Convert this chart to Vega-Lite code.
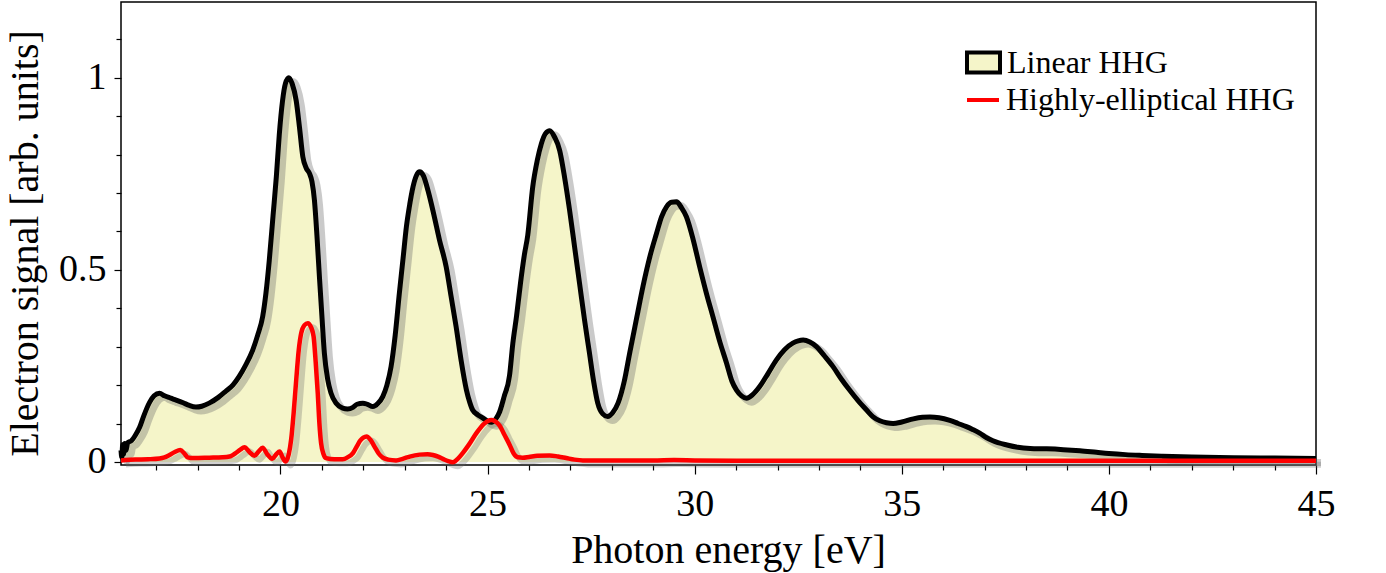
{
  "$schema": "https://vega.github.io/schema/vega-lite/v6.json",
  "width": 1195,
  "height": 463,
  "autosize": {"type": "none"},
  "padding": {"left": 121, "top": 2, "right": 70, "bottom": 108},
  "background": "white",
  "datasets": {
    "hhg": [
      {"energy": 16.15, "signal": 0.03, "series": "Linear HHG"},
      {"energy": 16.17, "signal": 0.012, "series": "Linear HHG"},
      {"energy": 16.19, "signal": 0.045, "series": "Linear HHG"},
      {"energy": 16.21, "signal": 0.02, "series": "Linear HHG"},
      {"energy": 16.24, "signal": 0.048, "series": "Linear HHG"},
      {"energy": 16.27, "signal": 0.03, "series": "Linear HHG"},
      {"energy": 16.31, "signal": 0.05, "series": "Linear HHG"},
      {"energy": 16.4, "signal": 0.055, "series": "Linear HHG"},
      {"energy": 16.5, "signal": 0.07, "series": "Linear HHG"},
      {"energy": 16.6, "signal": 0.09, "series": "Linear HHG"},
      {"energy": 16.7, "signal": 0.12, "series": "Linear HHG"},
      {"energy": 16.84, "signal": 0.155, "series": "Linear HHG"},
      {"energy": 16.95, "signal": 0.172, "series": "Linear HHG"},
      {"energy": 17.08, "signal": 0.179, "series": "Linear HHG"},
      {"energy": 17.2, "signal": 0.172, "series": "Linear HHG"},
      {"energy": 17.35, "signal": 0.166, "series": "Linear HHG"},
      {"energy": 17.48, "signal": 0.161, "series": "Linear HHG"},
      {"energy": 17.65, "signal": 0.154, "series": "Linear HHG"},
      {"energy": 17.8, "signal": 0.147, "series": "Linear HHG"},
      {"energy": 17.96, "signal": 0.143, "series": "Linear HHG"},
      {"energy": 18.1, "signal": 0.145, "series": "Linear HHG"},
      {"energy": 18.28, "signal": 0.153, "series": "Linear HHG"},
      {"energy": 18.5, "signal": 0.168, "series": "Linear HHG"},
      {"energy": 18.69, "signal": 0.185, "series": "Linear HHG"},
      {"energy": 18.85, "signal": 0.2, "series": "Linear HHG"},
      {"energy": 19.0, "signal": 0.222, "series": "Linear HHG"},
      {"energy": 19.15, "signal": 0.25, "series": "Linear HHG"},
      {"energy": 19.33, "signal": 0.291, "series": "Linear HHG"},
      {"energy": 19.45, "signal": 0.33, "series": "Linear HHG"},
      {"energy": 19.57, "signal": 0.378, "series": "Linear HHG"},
      {"energy": 19.65, "signal": 0.44, "series": "Linear HHG"},
      {"energy": 19.73, "signal": 0.525, "series": "Linear HHG"},
      {"energy": 19.82, "signal": 0.64, "series": "Linear HHG"},
      {"energy": 19.9, "signal": 0.742, "series": "Linear HHG"},
      {"energy": 19.97, "signal": 0.85, "series": "Linear HHG"},
      {"energy": 20.05, "signal": 0.94, "series": "Linear HHG"},
      {"energy": 20.12, "signal": 0.985, "series": "Linear HHG"},
      {"energy": 20.2, "signal": 1.0, "series": "Linear HHG"},
      {"energy": 20.28, "signal": 0.985, "series": "Linear HHG"},
      {"energy": 20.38, "signal": 0.94, "series": "Linear HHG"},
      {"energy": 20.46, "signal": 0.87, "series": "Linear HHG"},
      {"energy": 20.54, "signal": 0.794, "series": "Linear HHG"},
      {"energy": 20.62, "signal": 0.765, "series": "Linear HHG"},
      {"energy": 20.7, "signal": 0.751, "series": "Linear HHG"},
      {"energy": 20.76, "signal": 0.73, "series": "Linear HHG"},
      {"energy": 20.82, "signal": 0.681, "series": "Linear HHG"},
      {"energy": 20.88, "signal": 0.59, "series": "Linear HHG"},
      {"energy": 20.94, "signal": 0.482, "series": "Linear HHG"},
      {"energy": 21.0, "signal": 0.38, "series": "Linear HHG"},
      {"energy": 21.06, "signal": 0.283, "series": "Linear HHG"},
      {"energy": 21.14, "signal": 0.215, "series": "Linear HHG"},
      {"energy": 21.22, "signal": 0.179, "series": "Linear HHG"},
      {"energy": 21.35, "signal": 0.152, "series": "Linear HHG"},
      {"energy": 21.5, "signal": 0.14, "series": "Linear HHG"},
      {"energy": 21.62, "signal": 0.138, "series": "Linear HHG"},
      {"energy": 21.75, "signal": 0.142, "series": "Linear HHG"},
      {"energy": 21.85, "signal": 0.15, "series": "Linear HHG"},
      {"energy": 21.99, "signal": 0.153, "series": "Linear HHG"},
      {"energy": 22.1, "signal": 0.15, "series": "Linear HHG"},
      {"energy": 22.23, "signal": 0.144, "series": "Linear HHG"},
      {"energy": 22.35, "signal": 0.152, "series": "Linear HHG"},
      {"energy": 22.47, "signal": 0.17, "series": "Linear HHG"},
      {"energy": 22.57, "signal": 0.2, "series": "Linear HHG"},
      {"energy": 22.67, "signal": 0.248, "series": "Linear HHG"},
      {"energy": 22.77, "signal": 0.33, "series": "Linear HHG"},
      {"energy": 22.87, "signal": 0.439, "series": "Linear HHG"},
      {"energy": 22.96, "signal": 0.53, "series": "Linear HHG"},
      {"energy": 23.04, "signal": 0.612, "series": "Linear HHG"},
      {"energy": 23.12, "signal": 0.67, "series": "Linear HHG"},
      {"energy": 23.2, "signal": 0.716, "series": "Linear HHG"},
      {"energy": 23.28, "signal": 0.745, "series": "Linear HHG"},
      {"energy": 23.36, "signal": 0.755, "series": "Linear HHG"},
      {"energy": 23.45, "signal": 0.745, "series": "Linear HHG"},
      {"energy": 23.56, "signal": 0.707, "series": "Linear HHG"},
      {"energy": 23.7, "signal": 0.645, "series": "Linear HHG"},
      {"energy": 23.84, "signal": 0.577, "series": "Linear HHG"},
      {"energy": 24.0, "signal": 0.508, "series": "Linear HHG"},
      {"energy": 24.12, "signal": 0.43, "series": "Linear HHG"},
      {"energy": 24.24, "signal": 0.352, "series": "Linear HHG"},
      {"energy": 24.36, "signal": 0.265, "series": "Linear HHG"},
      {"energy": 24.49, "signal": 0.187, "series": "Linear HHG"},
      {"energy": 24.57, "signal": 0.155, "series": "Linear HHG"},
      {"energy": 24.64, "signal": 0.135, "series": "Linear HHG"},
      {"energy": 24.76, "signal": 0.123, "series": "Linear HHG"},
      {"energy": 24.89, "signal": 0.114, "series": "Linear HHG"},
      {"energy": 25.0, "signal": 0.106, "series": "Linear HHG"},
      {"energy": 25.09, "signal": 0.103, "series": "Linear HHG"},
      {"energy": 25.2, "signal": 0.112, "series": "Linear HHG"},
      {"energy": 25.29, "signal": 0.13, "series": "Linear HHG"},
      {"energy": 25.4, "signal": 0.17, "series": "Linear HHG"},
      {"energy": 25.53, "signal": 0.225, "series": "Linear HHG"},
      {"energy": 25.61, "signal": 0.309, "series": "Linear HHG"},
      {"energy": 25.7, "signal": 0.38, "series": "Linear HHG"},
      {"energy": 25.8, "signal": 0.47, "series": "Linear HHG"},
      {"energy": 25.89, "signal": 0.54, "series": "Linear HHG"},
      {"energy": 25.97, "signal": 0.59, "series": "Linear HHG"},
      {"energy": 26.09, "signal": 0.716, "series": "Linear HHG"},
      {"energy": 26.2, "signal": 0.785, "series": "Linear HHG"},
      {"energy": 26.3, "signal": 0.829, "series": "Linear HHG"},
      {"energy": 26.4, "signal": 0.855, "series": "Linear HHG"},
      {"energy": 26.5, "signal": 0.862, "series": "Linear HHG"},
      {"energy": 26.62, "signal": 0.845, "series": "Linear HHG"},
      {"energy": 26.74, "signal": 0.811, "series": "Linear HHG"},
      {"energy": 26.86, "signal": 0.74, "series": "Linear HHG"},
      {"energy": 26.98, "signal": 0.655, "series": "Linear HHG"},
      {"energy": 27.1, "signal": 0.56, "series": "Linear HHG"},
      {"energy": 27.22, "signal": 0.465, "series": "Linear HHG"},
      {"energy": 27.34, "signal": 0.37, "series": "Linear HHG"},
      {"energy": 27.46, "signal": 0.283, "series": "Linear HHG"},
      {"energy": 27.56, "signal": 0.21, "series": "Linear HHG"},
      {"energy": 27.66, "signal": 0.153, "series": "Linear HHG"},
      {"energy": 27.78, "signal": 0.125, "series": "Linear HHG"},
      {"energy": 27.9, "signal": 0.118, "series": "Linear HHG"},
      {"energy": 28.02, "signal": 0.128, "series": "Linear HHG"},
      {"energy": 28.15, "signal": 0.153, "series": "Linear HHG"},
      {"energy": 28.3, "signal": 0.21, "series": "Linear HHG"},
      {"energy": 28.43, "signal": 0.283, "series": "Linear HHG"},
      {"energy": 28.6, "signal": 0.375, "series": "Linear HHG"},
      {"energy": 28.75, "signal": 0.456, "series": "Linear HHG"},
      {"energy": 28.92, "signal": 0.535, "series": "Linear HHG"},
      {"energy": 29.08, "signal": 0.595, "series": "Linear HHG"},
      {"energy": 29.2, "signal": 0.638, "series": "Linear HHG"},
      {"energy": 29.32, "signal": 0.664, "series": "Linear HHG"},
      {"energy": 29.44, "signal": 0.676, "series": "Linear HHG"},
      {"energy": 29.56, "signal": 0.677, "series": "Linear HHG"},
      {"energy": 29.68, "signal": 0.662, "series": "Linear HHG"},
      {"energy": 29.8, "signal": 0.638, "series": "Linear HHG"},
      {"energy": 29.96, "signal": 0.58, "series": "Linear HHG"},
      {"energy": 30.12, "signal": 0.508, "series": "Linear HHG"},
      {"energy": 30.28, "signal": 0.44, "series": "Linear HHG"},
      {"energy": 30.44, "signal": 0.378, "series": "Linear HHG"},
      {"energy": 30.6, "signal": 0.315, "series": "Linear HHG"},
      {"energy": 30.77, "signal": 0.257, "series": "Linear HHG"},
      {"energy": 30.9, "signal": 0.21, "series": "Linear HHG"},
      {"energy": 31.01, "signal": 0.187, "series": "Linear HHG"},
      {"energy": 31.13, "signal": 0.172, "series": "Linear HHG"},
      {"energy": 31.25, "signal": 0.166, "series": "Linear HHG"},
      {"energy": 31.4, "signal": 0.175, "series": "Linear HHG"},
      {"energy": 31.57, "signal": 0.196, "series": "Linear HHG"},
      {"energy": 31.77, "signal": 0.23, "series": "Linear HHG"},
      {"energy": 31.97, "signal": 0.265, "series": "Linear HHG"},
      {"energy": 32.17, "signal": 0.292, "series": "Linear HHG"},
      {"energy": 32.37, "signal": 0.309, "series": "Linear HHG"},
      {"energy": 32.5, "signal": 0.315, "series": "Linear HHG"},
      {"energy": 32.62, "signal": 0.317, "series": "Linear HHG"},
      {"energy": 32.78, "signal": 0.312, "series": "Linear HHG"},
      {"energy": 32.94, "signal": 0.3, "series": "Linear HHG"},
      {"energy": 33.14, "signal": 0.275, "series": "Linear HHG"},
      {"energy": 33.34, "signal": 0.248, "series": "Linear HHG"},
      {"energy": 33.54, "signal": 0.216, "series": "Linear HHG"},
      {"energy": 33.74, "signal": 0.187, "series": "Linear HHG"},
      {"energy": 33.94, "signal": 0.16, "series": "Linear HHG"},
      {"energy": 34.15, "signal": 0.135, "series": "Linear HHG"},
      {"energy": 34.3, "signal": 0.118, "series": "Linear HHG"},
      {"energy": 34.47, "signal": 0.107, "series": "Linear HHG"},
      {"energy": 34.63, "signal": 0.102, "series": "Linear HHG"},
      {"energy": 34.79, "signal": 0.1, "series": "Linear HHG"},
      {"energy": 35.0, "signal": 0.104, "series": "Linear HHG"},
      {"energy": 35.28, "signal": 0.112, "series": "Linear HHG"},
      {"energy": 35.5, "signal": 0.116, "series": "Linear HHG"},
      {"energy": 35.68, "signal": 0.117, "series": "Linear HHG"},
      {"energy": 35.9, "signal": 0.115, "series": "Linear HHG"},
      {"energy": 36.16, "signal": 0.108, "series": "Linear HHG"},
      {"energy": 36.36, "signal": 0.1, "series": "Linear HHG"},
      {"energy": 36.56, "signal": 0.092, "series": "Linear HHG"},
      {"energy": 36.72, "signal": 0.084, "series": "Linear HHG"},
      {"energy": 36.88, "signal": 0.075, "series": "Linear HHG"},
      {"energy": 37.05, "signal": 0.063, "series": "Linear HHG"},
      {"energy": 37.2, "signal": 0.055, "series": "Linear HHG"},
      {"energy": 37.54, "signal": 0.044, "series": "Linear HHG"},
      {"energy": 37.8, "signal": 0.038, "series": "Linear HHG"},
      {"energy": 38.1, "signal": 0.035, "series": "Linear HHG"},
      {"energy": 38.5, "signal": 0.034, "series": "Linear HHG"},
      {"energy": 38.9, "signal": 0.032, "series": "Linear HHG"},
      {"energy": 39.3, "signal": 0.029, "series": "Linear HHG"},
      {"energy": 39.7, "signal": 0.025, "series": "Linear HHG"},
      {"energy": 40.0, "signal": 0.022, "series": "Linear HHG"},
      {"energy": 40.4, "signal": 0.019, "series": "Linear HHG"},
      {"energy": 40.8, "signal": 0.017, "series": "Linear HHG"},
      {"energy": 41.3, "signal": 0.015, "series": "Linear HHG"},
      {"energy": 42.0, "signal": 0.013, "series": "Linear HHG"},
      {"energy": 43.0, "signal": 0.011, "series": "Linear HHG"},
      {"energy": 44.0, "signal": 0.01, "series": "Linear HHG"},
      {"energy": 45.0, "signal": 0.009, "series": "Linear HHG"},
      {"energy": 16.15, "signal": 0.004, "series": "Highly-elliptical HHG"},
      {"energy": 16.5, "signal": 0.006, "series": "Highly-elliptical HHG"},
      {"energy": 16.8, "signal": 0.007, "series": "Highly-elliptical HHG"},
      {"energy": 17.08, "signal": 0.009, "series": "Highly-elliptical HHG"},
      {"energy": 17.2, "signal": 0.012, "series": "Highly-elliptical HHG"},
      {"energy": 17.32, "signal": 0.018, "series": "Highly-elliptical HHG"},
      {"energy": 17.45, "signal": 0.026, "series": "Highly-elliptical HHG"},
      {"energy": 17.58, "signal": 0.031, "series": "Highly-elliptical HHG"},
      {"energy": 17.68, "signal": 0.022, "series": "Highly-elliptical HHG"},
      {"energy": 17.76, "signal": 0.012, "series": "Highly-elliptical HHG"},
      {"energy": 17.9, "signal": 0.01, "series": "Highly-elliptical HHG"},
      {"energy": 18.28, "signal": 0.011, "series": "Highly-elliptical HHG"},
      {"energy": 18.6, "signal": 0.012, "series": "Highly-elliptical HHG"},
      {"energy": 18.77, "signal": 0.014, "series": "Highly-elliptical HHG"},
      {"energy": 18.85, "signal": 0.018, "series": "Highly-elliptical HHG"},
      {"energy": 18.93, "signal": 0.024, "series": "Highly-elliptical HHG"},
      {"energy": 19.03, "signal": 0.032, "series": "Highly-elliptical HHG"},
      {"energy": 19.13, "signal": 0.038, "series": "Highly-elliptical HHG"},
      {"energy": 19.25, "signal": 0.026, "series": "Highly-elliptical HHG"},
      {"energy": 19.37, "signal": 0.016, "series": "Highly-elliptical HHG"},
      {"energy": 19.47, "signal": 0.027, "series": "Highly-elliptical HHG"},
      {"energy": 19.57, "signal": 0.037, "series": "Highly-elliptical HHG"},
      {"energy": 19.68, "signal": 0.02, "series": "Highly-elliptical HHG"},
      {"energy": 19.8, "signal": 0.008, "series": "Highly-elliptical HHG"},
      {"energy": 19.9, "signal": 0.02, "series": "Highly-elliptical HHG"},
      {"energy": 19.98, "signal": 0.027, "series": "Highly-elliptical HHG"},
      {"energy": 20.05, "signal": 0.012, "series": "Highly-elliptical HHG"},
      {"energy": 20.12, "signal": 0.001, "series": "Highly-elliptical HHG"},
      {"energy": 20.2, "signal": 0.02, "series": "Highly-elliptical HHG"},
      {"energy": 20.26, "signal": 0.06, "series": "Highly-elliptical HHG"},
      {"energy": 20.32, "signal": 0.13, "series": "Highly-elliptical HHG"},
      {"energy": 20.38, "signal": 0.213, "series": "Highly-elliptical HHG"},
      {"energy": 20.44, "signal": 0.29, "series": "Highly-elliptical HHG"},
      {"energy": 20.5, "signal": 0.335, "series": "Highly-elliptical HHG"},
      {"energy": 20.58, "signal": 0.356, "series": "Highly-elliptical HHG"},
      {"energy": 20.66, "signal": 0.361, "series": "Highly-elliptical HHG"},
      {"energy": 20.74, "signal": 0.35, "series": "Highly-elliptical HHG"},
      {"energy": 20.8, "signal": 0.326, "series": "Highly-elliptical HHG"},
      {"energy": 20.85, "signal": 0.26, "series": "Highly-elliptical HHG"},
      {"energy": 20.9, "signal": 0.179, "series": "Highly-elliptical HHG"},
      {"energy": 20.94, "signal": 0.1, "series": "Highly-elliptical HHG"},
      {"energy": 20.98, "signal": 0.049, "series": "Highly-elliptical HHG"},
      {"energy": 21.04, "signal": 0.02, "series": "Highly-elliptical HHG"},
      {"energy": 21.1, "signal": 0.01, "series": "Highly-elliptical HHG"},
      {"energy": 21.3, "signal": 0.007, "series": "Highly-elliptical HHG"},
      {"energy": 21.5, "signal": 0.007, "series": "Highly-elliptical HHG"},
      {"energy": 21.62, "signal": 0.012, "series": "Highly-elliptical HHG"},
      {"energy": 21.75, "signal": 0.023, "series": "Highly-elliptical HHG"},
      {"energy": 21.85, "signal": 0.042, "series": "Highly-elliptical HHG"},
      {"energy": 21.93, "signal": 0.056, "series": "Highly-elliptical HHG"},
      {"energy": 22.0, "signal": 0.063, "series": "Highly-elliptical HHG"},
      {"energy": 22.08, "signal": 0.066, "series": "Highly-elliptical HHG"},
      {"energy": 22.17, "signal": 0.058, "series": "Highly-elliptical HHG"},
      {"energy": 22.27, "signal": 0.04, "series": "Highly-elliptical HHG"},
      {"energy": 22.37, "signal": 0.022, "series": "Highly-elliptical HHG"},
      {"energy": 22.47, "signal": 0.011, "series": "Highly-elliptical HHG"},
      {"energy": 22.6, "signal": 0.006, "series": "Highly-elliptical HHG"},
      {"energy": 22.79, "signal": 0.004, "series": "Highly-elliptical HHG"},
      {"energy": 22.95, "signal": 0.008, "series": "Highly-elliptical HHG"},
      {"energy": 23.12, "signal": 0.014, "series": "Highly-elliptical HHG"},
      {"energy": 23.36, "signal": 0.019, "series": "Highly-elliptical HHG"},
      {"energy": 23.55, "signal": 0.02, "series": "Highly-elliptical HHG"},
      {"energy": 23.68, "signal": 0.018, "series": "Highly-elliptical HHG"},
      {"energy": 23.82, "signal": 0.013, "series": "Highly-elliptical HHG"},
      {"energy": 23.92, "signal": 0.008, "series": "Highly-elliptical HHG"},
      {"energy": 24.05, "signal": 0.002, "series": "Highly-elliptical HHG"},
      {"energy": 24.16, "signal": -0.001, "series": "Highly-elliptical HHG"},
      {"energy": 24.28, "signal": 0.008, "series": "Highly-elliptical HHG"},
      {"energy": 24.4, "signal": 0.023, "series": "Highly-elliptical HHG"},
      {"energy": 24.55, "signal": 0.045, "series": "Highly-elliptical HHG"},
      {"energy": 24.73, "signal": 0.075, "series": "Highly-elliptical HHG"},
      {"energy": 24.9, "signal": 0.098, "series": "Highly-elliptical HHG"},
      {"energy": 25.0, "signal": 0.106, "series": "Highly-elliptical HHG"},
      {"energy": 25.09, "signal": 0.109, "series": "Highly-elliptical HHG"},
      {"energy": 25.18, "signal": 0.106, "series": "Highly-elliptical HHG"},
      {"energy": 25.29, "signal": 0.095, "series": "Highly-elliptical HHG"},
      {"energy": 25.4, "signal": 0.072, "series": "Highly-elliptical HHG"},
      {"energy": 25.53, "signal": 0.045, "series": "Highly-elliptical HHG"},
      {"energy": 25.63, "signal": 0.022, "series": "Highly-elliptical HHG"},
      {"energy": 25.73, "signal": 0.012, "series": "Highly-elliptical HHG"},
      {"energy": 25.85, "signal": 0.011, "series": "Highly-elliptical HHG"},
      {"energy": 26.0, "signal": 0.013, "series": "Highly-elliptical HHG"},
      {"energy": 26.2, "signal": 0.016, "series": "Highly-elliptical HHG"},
      {"energy": 26.5, "signal": 0.017, "series": "Highly-elliptical HHG"},
      {"energy": 26.7, "signal": 0.014, "series": "Highly-elliptical HHG"},
      {"energy": 26.9, "signal": 0.01, "series": "Highly-elliptical HHG"},
      {"energy": 27.1, "signal": 0.006, "series": "Highly-elliptical HHG"},
      {"energy": 27.3, "signal": 0.004, "series": "Highly-elliptical HHG"},
      {"energy": 28.0, "signal": 0.004, "series": "Highly-elliptical HHG"},
      {"energy": 29.0, "signal": 0.004, "series": "Highly-elliptical HHG"},
      {"energy": 29.5, "signal": 0.005, "series": "Highly-elliptical HHG"},
      {"energy": 30.0, "signal": 0.004, "series": "Highly-elliptical HHG"},
      {"energy": 31.0, "signal": 0.003, "series": "Highly-elliptical HHG"},
      {"energy": 33.0, "signal": 0.003, "series": "Highly-elliptical HHG"},
      {"energy": 35.0, "signal": 0.003, "series": "Highly-elliptical HHG"},
      {"energy": 38.0, "signal": 0.003, "series": "Highly-elliptical HHG"},
      {"energy": 41.0, "signal": 0.003, "series": "Highly-elliptical HHG"},
      {"energy": 45.0, "signal": 0.003, "series": "Highly-elliptical HHG"}
    ]
  },
  "data": {"name": "hhg"},
  "layer": [
    {
      "transform": [{"filter": "datum.series == 'Linear HHG'"}],
      "mark": {"type": "area", "interpolate": "monotone", "opacity": 1},
      "encoding": {
        "x": {
          "field": "energy", "type": "quantitative",
          "scale": {"domain": [16.15, 45], "nice": false, "zero": false},
          "axis": {
            "values": [20, 25, 30, 35, 40, 45],
            "tickSize": 9,
            "labelPadding": 41,
            "labelBaseline": "alphabetic",
            "title": "Photon energy [eV]",
            "titleBaseline": "alphabetic",
            "titleX": 607,
            "titleY": 97
          }
        },
        "y": {
          "field": "signal", "type": "quantitative",
          "scale": {"domain": [-0.008, 1.197], "nice": false, "zero": false},
          "axis": {
            "values": [0, 0.5, 1],
            "format": "~g",
            "tickSize": 7,
            "labelPadding": 8,
            "labelBaseline": "middle",
            "title": "Electron signal [arb. units]",
            "titleBaseline": "alphabetic",
            "titleAlign": "center",
            "titleAngle": -90,
            "titleX": -84,
            "titleY": 241
          }
        },
        "fill": {
          "field": "series", "type": "nominal",
          "scale": {"domain": ["Linear HHG"], "range": ["#f5f5c9"]},
          "legend": {
            "orient": "none",
            "legendX": 844,
            "legendY": 42,
            "title": null,
            "padding": 0,
            "symbolType": "M-1,-0.6H1V0.6H-1Z",
            "symbolSize": 1089,
            "symbolStrokeColor": "black",
            "symbolStrokeWidth": 4,
            "symbolOpacity": 1,
            "labelOffset": 5,
            "labelLimit": 0,
            "labelFontSize": 32
          }
        }
      }
    },
    {
      "transform": [{"filter": "datum.series == 'Linear HHG'"}],
      "mark": {"type": "line", "interpolate": "monotone", "color": "#666666", "opacity": 0.35, "strokeWidth": 7, "xOffset": 5, "yOffset": 4},
      "encoding": {
        "x": {"field": "energy", "type": "quantitative", "axis": null},
        "y": {"field": "signal", "type": "quantitative", "axis": null}
      }
    },
    {
      "transform": [{"filter": "datum.series == 'Highly-elliptical HHG'"}],
      "mark": {"type": "line", "interpolate": "monotone", "color": "#666666", "opacity": 0.3, "strokeWidth": 6, "xOffset": 5, "yOffset": 4},
      "encoding": {
        "x": {"field": "energy", "type": "quantitative", "axis": null},
        "y": {"field": "signal", "type": "quantitative", "axis": null}
      }
    },
    {
      "transform": [{"filter": "datum.series == 'Linear HHG'"}],
      "mark": {"type": "line", "interpolate": "monotone", "color": "black", "strokeWidth": 5},
      "encoding": {
        "x": {"field": "energy", "type": "quantitative", "axis": null},
        "y": {"field": "signal", "type": "quantitative", "axis": null}
      }
    },
    {
      "transform": [{"filter": "datum.series == 'Highly-elliptical HHG'"}],
      "mark": {"type": "line", "interpolate": "monotone", "strokeWidth": 4.5},
      "encoding": {
        "x": {
          "field": "energy", "type": "quantitative",
          "axis": {
            "values": [17, 18, 19, 21, 22, 23, 24, 26, 27, 28, 29, 31, 32, 33, 34, 36, 37, 38, 39, 41, 42, 43, 44],
            "orient": "bottom",
            "tickSize": 5,
            "labels": false,
            "title": null
          }
        },
        "y": {
          "field": "signal", "type": "quantitative",
          "axis": {
            "values": [0.1, 0.2, 0.3, 0.4, 0.6, 0.7, 0.8, 0.9, 1.1],
            "orient": "left",
            "tickSize": 5,
            "labels": false,
            "title": null
          }
        },
        "stroke": {
          "field": "series", "type": "nominal",
          "scale": {"domain": ["Highly-elliptical HHG"], "range": ["#ff0000"]},
          "legend": {
            "orient": "none",
            "legendX": 844,
            "legendY": 80,
            "title": null,
            "padding": 0,
            "symbolType": "stroke",
            "symbolSize": 1024,
            "symbolStrokeWidth": 4,
            "labelOffset": 5,
            "labelLimit": 0,
            "labelFontSize": 32
          }
        }
      }
    }
  ],
  "resolve": {"axis": {"x": "independent", "y": "independent"}},
  "config": {
    "view": {"stroke": "black", "strokeWidth": 1.5},
    "font": "Liberation Serif",
    "axis": {
      "domain": false,
      "grid": false,
      "labelFont": "Liberation Serif",
      "labelFontSize": 38,
      "labelColor": "black",
      "labelFlush": false,
      "labelOverlap": false,
      "tickColor": "black",
      "tickWidth": 1.2,
      "titleFont": "Liberation Serif",
      "titleFontSize": 40,
      "titleFontWeight": "normal",
      "titleColor": "black"
    },
    "legend": {
      "labelFont": "Liberation Serif",
      "labelColor": "black"
    }
  }
}
